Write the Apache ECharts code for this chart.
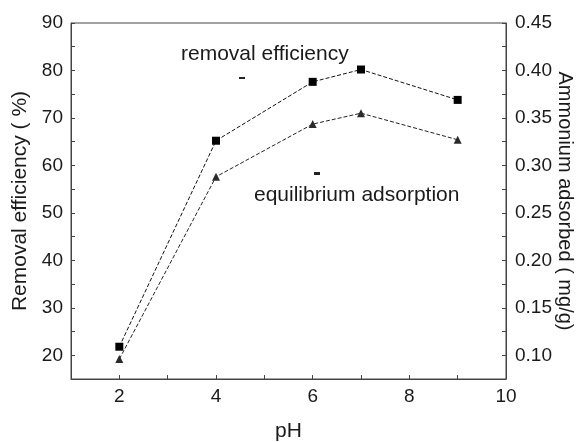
<!DOCTYPE html>
<html>
<head>
<meta charset="utf-8">
<script src="https://cdn.jsdelivr.net/npm/echarts@6/dist/echarts.min.js"></script>
<style>html,body{margin:0;padding:0;background:#fff}#c{width:582px;height:442px}</style>
</head>
<body>
<div id="c"></div>
<script>
const pH = [2, 4, 6, 7, 9];
const removalEfficiency = [21.8, 65.2, 77.6, 80.2, 73.8];
const ammoniumAdsorbed = [0.096, 0.288, 0.3435, 0.355, 0.327];
const xTicks = [2, 4, 6, 8, 10];
const leftTicks = [20, 30, 40, 50, 60, 70, 80, 90];
const rightTicks = [0.10, 0.15, 0.20, 0.25, 0.30, 0.35, 0.40, 0.45];

const chart = echarts.init(document.getElementById('c'));
const font = 'Liberation Sans, Arial, sans-serif';
const axisCol = '#444';
const txt = '#1a1a1a';

function pairs(xs, ys) { return xs.map((x, i) => [x, ys[i]]); }

chart.setOption({
  animation: false,
  backgroundColor: '#fff',
  grid: { left: 71, right: 76, top: 23, bottom: 63, show: true, borderColor: axisCol, borderWidth: 1,
    backgroundColor: 'transparent', containLabel: false, outerBoundsMode: 'none' },
  xAxis: {
    type: 'value', min: 1, max: 10, interval: 1,
    name: 'pH', nameLocation: 'middle', nameGap: 42, nameMoveOverlap: false,
    nameTextStyle: { fontFamily: font, fontSize: 21, color: txt },
    axisLine: { show: true, lineStyle: { color: axisCol, width: 1 } },
    axisTick: { show: true, inside: true, length: 4, lineStyle: { color: axisCol } },
    axisLabel: { fontFamily: font, fontSize: 19, color: txt, margin: 8,
      formatter: v => xTicks.includes(v) ? String(v) : '' },
    splitLine: { show: false }
  },
  yAxis: [
    {
      type: 'value', min: 15, max: 90, interval: 5, position: 'left',
      name: 'Removal efficiency ( %)', nameLocation: 'middle', nameGap: 40, nameRotate: 90, nameMoveOverlap: false,
      nameTextStyle: { fontFamily: font, fontSize: 21, color: txt },
      axisLine: { show: true, lineStyle: { color: axisCol, width: 1 } },
      axisTick: { show: true, inside: true, length: 4, lineStyle: { color: axisCol } },
      axisLabel: { fontFamily: font, fontSize: 19, color: txt, margin: 8,
        formatter: v => leftTicks.includes(Math.round(v)) && Math.abs(v - Math.round(v)) < 1e-6 ? String(Math.round(v)) : '' },
      splitLine: { show: false }
    },
    {
      type: 'value', min: 0.075, max: 0.45, interval: 0.025, position: 'right',
      name: 'Ammonium adsorbed ( mg/g)', nameLocation: 'middle', nameGap: 49, nameRotate: -90, nameMoveOverlap: false,
      nameTextStyle: { fontFamily: font, fontSize: 20, color: txt },
      axisLine: { show: true, lineStyle: { color: axisCol, width: 1 } },
      axisTick: { show: true, inside: true, length: 4, lineStyle: { color: axisCol } },
      axisLabel: { fontFamily: font, fontSize: 19, color: txt, margin: 9,
        formatter: v => {
          const m = Math.round(v * 1000);
          return rightTicks.some(t => Math.round(t * 1000) === m) ? (m / 1000).toFixed(2) : '';
        } },
      splitLine: { show: false }
    }
  ],
  series: [
    {
      type: 'line', yAxisIndex: 0, data: pairs(pH, removalEfficiency),
      symbol: 'rect', symbolSize: 8,
      itemStyle: { color: '#000' },
      lineStyle: { color: '#111', width: 1, type: [4, 2] }
    },
    {
      type: 'line', yAxisIndex: 1, data: pairs(pH, ammoniumAdsorbed),
      symbol: 'triangle', symbolSize: 8,
      itemStyle: { color: '#2a2a2a' },
      lineStyle: { color: '#222', width: 1, type: [4, 2] }
    }
  ],
  graphic: [
    { type: 'text', left: 181, top: 44, style: { text: 'removal efficiency', font: '21px ' + font, fill: txt } },
    { type: 'text', left: 254, top: 185, style: { text: 'equilibrium adsorption', font: '21px ' + font, fill: txt } },
    { type: 'rect', left: 239, top: 77, shape: { width: 6, height: 2 }, style: { fill: '#222' } },
    { type: 'rect', left: 314, top: 172, shape: { width: 6, height: 3 }, style: { fill: '#222' } }
  ]
});
</script>
</body>
</html>
